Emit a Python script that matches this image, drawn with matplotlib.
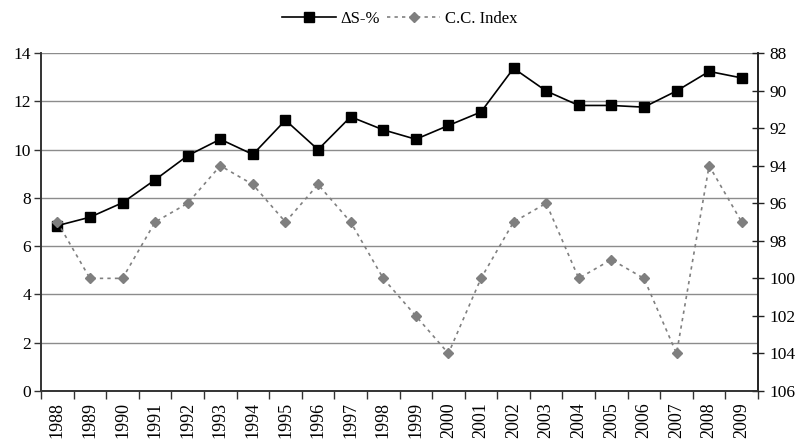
import matplotlib.pyplot as plt
from matplotlib.ticker import FixedLocator
import numpy as np

plt.rcParams['font.family'] = ['Liberation Serif', 'DejaVu Serif']

years = list(range(1988, 2010))
delta_s = [6.85, 7.2, 7.8, 8.75, 9.75, 10.43, 9.8, 11.22, 10.0, 11.36, 10.82,
           10.43, 11.0, 11.56, 13.37, 12.43, 11.83, 11.83, 11.76, 12.43, 13.24, 12.97]
cc_index = [97, 100, 100, 97, 96, 94, 95, 97, 95, 97, 100,
            102, 104, 100, 97, 96, 100, 99, 100, 104, 94, 97]

x = np.arange(len(years))

fig = plt.figure(figsize=(8, 4.46), dpi=100)
ax = fig.add_axes([0.0513, 0.1233, 0.8962, 0.7577])
ax2 = ax.twinx()

# left axis: delta S line
ax.plot(x, delta_s, color='black', lw=1.2, marker='s', ms=6.5,
        markerfacecolor='black', markeredgecolor='black', zorder=4)
ax.set_ylim(0, 14)
ax.set_yticks(range(0, 15, 2))
ax.set_xlim(-0.5, len(years) - 0.5)
ax.grid(axis='y', color='#8c8c8c', lw=1.0)
ax.set_axisbelow(True)

# category boundaries carry the tick marks, labels sit in the middle
ax.xaxis.set_minor_locator(FixedLocator(np.arange(-0.5, len(years), 1.0)))
ax.set_xticks(x)
ax.set_xticklabels([str(y) for y in years], rotation=90, fontsize=13)
ax.tick_params(axis='x', which='major', length=0, pad=8)
ax.tick_params(axis='x', which='minor', length=6, width=1, color='#333333', direction='out')
ax.tick_params(axis='y', length=5, width=1, color='#333333', labelsize=12.5, pad=2)

# right axis: C.C. index, inverted
ax2.plot(x, cc_index, color='#808080', lw=1.2, ls=(0, (2, 2.5)), marker='D', ms=5,
         markerfacecolor='#7f7f7f', markeredgecolor='#7f7f7f', zorder=3)
ax2.set_ylim(106, 88)
ax2.set_yticks(range(88, 107, 2))
ax2.tick_params(axis='y', length=8, width=1, direction='inout', color='#222222',
                labelsize=12.5, pad=4)

for a in (ax, ax2):
    a.spines['top'].set_visible(False)
    a.spines['left'].set_color('#333333')
    a.spines['right'].set_color('#222222')
    a.spines['bottom'].set_color('#333333')
    a.spines['left'].set_linewidth(1.2)
    a.spines['right'].set_linewidth(1.2)
    a.spines['bottom'].set_linewidth(1.2)

# legend above the plot
h1, = ax.plot([], [], color='black', lw=1.2, marker='s', ms=6.5, label='ΔS-%')
h2, = ax2.plot([], [], color='#808080', lw=1.2, ls=(0, (2, 2.5)), marker='D', ms=5,
               markerfacecolor='#7f7f7f', markeredgecolor='#7f7f7f', label='C.C. Index')
fig.legend(handles=[h1, h2], loc='center', bbox_to_anchor=(0.5, 0.958), ncol=2,
           frameon=False, fontsize=12, handlelength=3.2, columnspacing=0.4,
           handletextpad=0.3)

fig.savefig('out.png', dpi=100)
